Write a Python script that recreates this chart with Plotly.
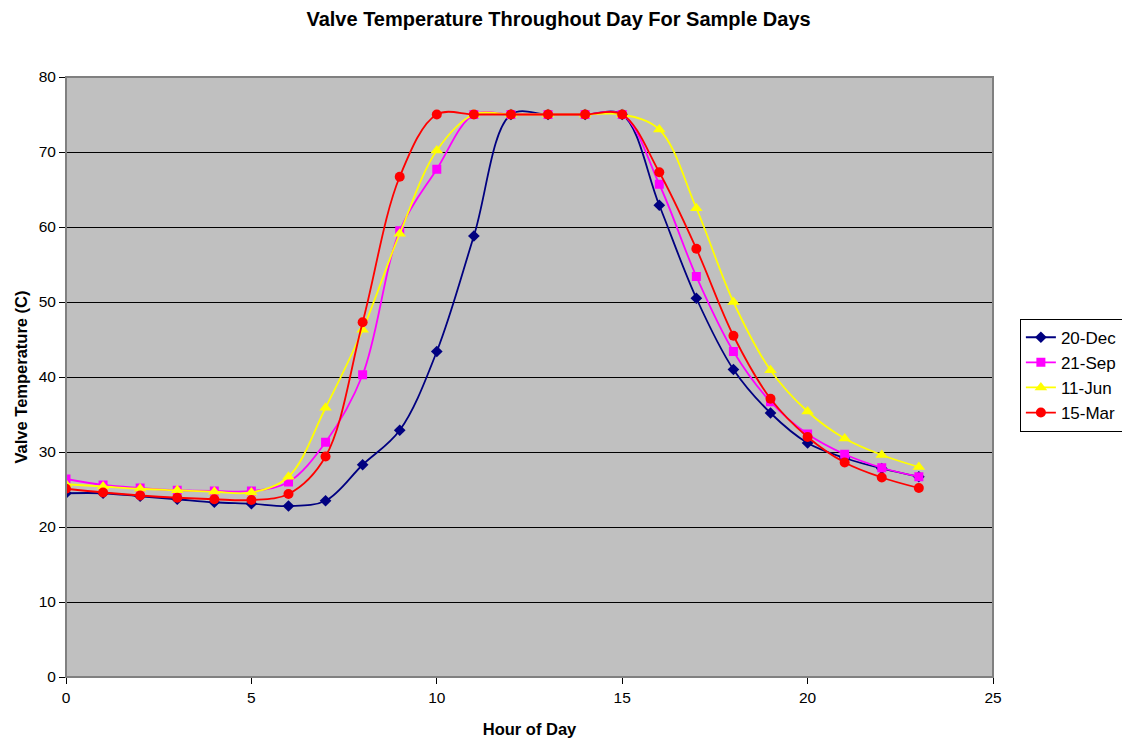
import plotly.graph_objects as go

hours = list(range(24))

dec20 = [24.5, 24.5, 24.1, 23.7, 23.3, 23.1, 22.8, 23.5, 28.3, 32.9, 43.4, 58.8,
         75.0, 75.0, 75.0, 75.0, 62.9, 50.5, 41.0, 35.2, 31.2, 29.2, 27.8, 26.7]
sep21 = [26.4, 25.6, 25.2, 24.9, 24.8, 24.8, 26.0, 31.3, 40.3, 59.5, 67.7, 75.0,
         75.0, 75.0, 75.0, 75.0, 65.7, 53.4, 43.4, 36.7, 32.4, 29.7, 27.9, 26.7]
jun11 = [25.7, 25.4, 25.1, 24.9, 24.7, 24.6, 26.7, 35.9, 46.3, 59.1, 70.2, 75.0,
         75.0, 75.0, 75.0, 75.0, 73.0, 62.5, 50.0, 40.9, 35.4, 31.8, 29.6, 28.0]
mar15 = [25.1, 24.6, 24.2, 23.9, 23.7, 23.6, 24.4, 29.4, 47.3, 66.7, 75.0, 75.0,
         75.0, 75.0, 75.0, 75.0, 67.3, 57.1, 45.5, 37.1, 32.0, 28.6, 26.6, 25.2]

series = [
    ("20-Dec", dec20, "#000080", "diamond", 9),
    ("21-Sep", sep21, "#FF00FF", "square", 9),
    ("11-Jun", jun11, "#FFFF00", "triangle-up", 11),
    ("15-Mar", mar15, "#FF0000", "circle", 10),
]

fig = go.Figure()
for name, vals, color, symbol, size in series:
    fig.add_trace(go.Scatter(
        x=hours, y=vals, name=name, mode="lines+markers",
        line=dict(color=color, width=1.8, shape="spline", smoothing=1.0),
        marker=dict(symbol=symbol, size=size, color=color),
    ))

font = "Liberation Sans, Arial, sans-serif"

# grey frame around the plot area (top and right edges show; axes cover the rest)
fig.add_shape(type="rect", xref="paper", yref="paper", x0=0, x1=1, y0=0, y1=1,
              line=dict(color="#808080", width=2), layer="above")

fig.update_layout(
    width=1122, height=741,
    margin=dict(l=66, r=129, t=77, b=64, autoexpand=False),
    paper_bgcolor="white",
    plot_bgcolor="#C0C0C0",
    font=dict(family=font, size=15.5, color="black"),
    title=dict(text="<b>Valve Temperature Throughout Day For Sample Days</b>",
               x=0.4978, xanchor="center", xref="container",
               y=1 - 19 / 741, yanchor="middle", yref="container",
               font=dict(size=20, family=font)),
    legend=dict(x=1.029, xanchor="left", y=0.503, yanchor="middle",
                bgcolor="white", bordercolor="black", borderwidth=1,
                font=dict(size=17, family=font), tracegroupgap=0,
                itemwidth=30),
    xaxis=dict(range=[0, 25], tick0=0, dtick=5, showgrid=False,
               showline=True, linecolor="black", linewidth=1,
               ticks="outside", ticklen=6, tickcolor="black",
               zeroline=False,
               title=dict(text="<b>Hour of Day</b>", font=dict(size=16.5), standoff=18)),
    yaxis=dict(range=[0, 80], tick0=0, dtick=10, showgrid=True,
               gridcolor="black", gridwidth=1,
               showline=True, linecolor="black", linewidth=1,
               ticks="outside", ticklen=6, tickcolor="black",
               zeroline=False,
               title=dict(text="<b>Valve Temperature (C)</b>", font=dict(size=16.5), standoff=6)),
)

fig.write_html("out.html")
